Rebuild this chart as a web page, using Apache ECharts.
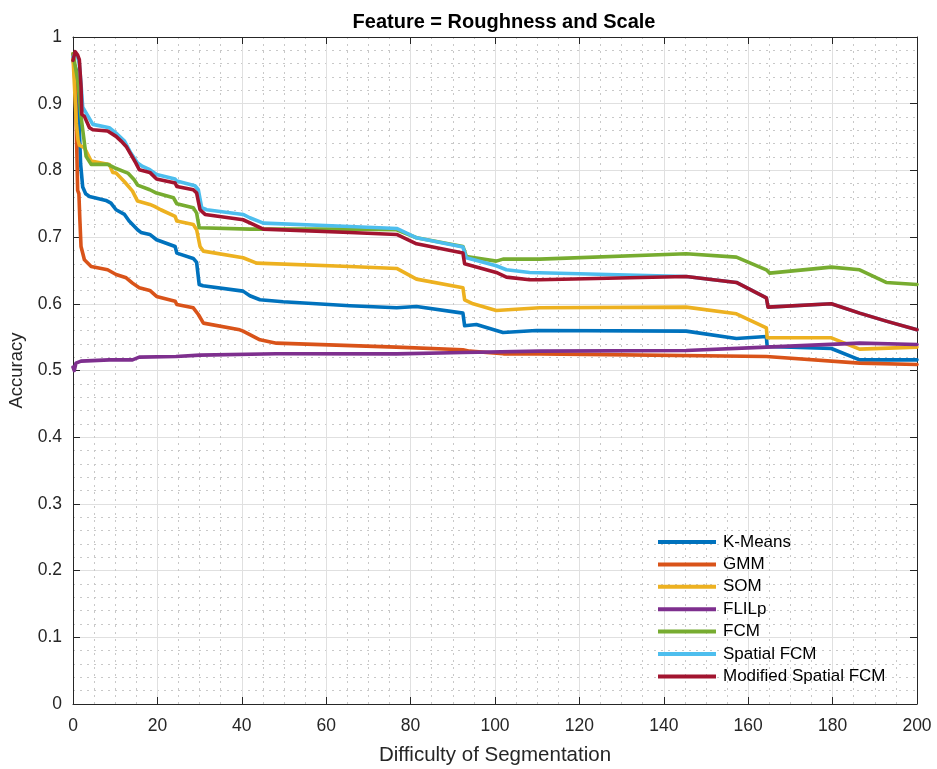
<!DOCTYPE html>
<html>
<head>
<meta charset="utf-8">
<script src="https://cdn.jsdelivr.net/npm/echarts@6/dist/echarts.min.js"></script>
<style>
  html, body { margin: 0; padding: 0; background: #fff; }
  #chart { width: 937px; height: 769px; }
</style>
</head>
<body>
<div id="chart"></div>
<script>
// Accuracy vs. difficulty of segmentation, one [difficulty, accuracy] list per method
const seriesNames = ['K-Means', 'GMM', 'SOM', 'FLILp', 'FCM', 'Spatial FCM', 'Modified Spatial FCM'];

const kmeans = [[0,0.965],[0.8,0.95],[1.3,0.90],[1.5,0.86],[1.8,0.81],[2.3,0.775],[3.0,0.765],[3.9,0.761],[7.8,0.755],[9,0.751],[10.2,0.741],[12.2,0.734],[13.3,0.724],[15.3,0.711],[16.1,0.707],[18.2,0.704],[19.8,0.696],[24.2,0.686],[24.6,0.676],[28.5,0.668],[29.3,0.662],[29.9,0.629],[30.8,0.627],[40.3,0.619],[41.9,0.612],[44.3,0.606],[49.8,0.603],[65.6,0.597],[76.7,0.594],[81.4,0.596],[92.4,0.586],[92.8,0.567],[95.6,0.569],[101.9,0.557],[109.8,0.560],[145.3,0.559],[157.2,0.548],[164.3,0.551],[164.5,0.536],[179.7,0.533],[186.4,0.516],[200,0.516]];

const gmm = [[0,0.975],[0.5,0.93],[0.8,0.86],[1.0,0.80],[1.1,0.77],[1.4,0.765],[1.6,0.73],[1.9,0.686],[2.7,0.666],[4.3,0.656],[8.2,0.651],[10.2,0.644],[12.6,0.639],[14.1,0.631],[15.7,0.624],[18.2,0.620],[19.8,0.611],[24.2,0.604],[24.6,0.599],[28.5,0.594],[29.7,0.584],[30.9,0.571],[39.5,0.561],[40.3,0.559],[44.3,0.546],[48.2,0.541],[76.6,0.535],[92.4,0.531],[94,0.529],[102,0.525],[110.6,0.525],[164.3,0.521],[186.4,0.511],[200,0.509]];

const som = [[0,0.97],[0.4,0.92],[0.8,0.87],[1.2,0.845],[1.5,0.838],[2.7,0.834],[4.3,0.814],[8.6,0.809],[9.4,0.797],[10.2,0.796],[12.2,0.783],[14.1,0.769],[15.3,0.754],[18.2,0.749],[19.3,0.746],[20.8,0.741],[24.2,0.731],[24.6,0.724],[28.5,0.719],[29.3,0.711],[30.1,0.686],[30.9,0.679],[40.3,0.669],[43.5,0.661],[65.6,0.656],[76.7,0.653],[81.4,0.637],[92.4,0.624],[92.8,0.606],[94.8,0.600],[100.3,0.590],[110.6,0.594],[145.3,0.595],[157.2,0.585],[164.3,0.564],[164.5,0.549],[179.7,0.549],[186.4,0.532],[200,0.535]];

const flilp = [[0,0.505],[0.3,0.500],[0.7,0.511],[1.9,0.514],[8.6,0.516],[14.1,0.516],[15.7,0.520],[24.4,0.521],[30.1,0.523],[48.2,0.525],[76.6,0.525],[92.4,0.527],[110.6,0.529],[145.3,0.530],[164.3,0.535],[186.4,0.541],[200,0.539]];

const fcm = [[0,0.975],[0.3,0.976],[1.1,0.936],[1.5,0.911],[1.9,0.881],[2.7,0.841],[3.1,0.821],[4.3,0.809],[8.2,0.809],[9.8,0.804],[13,0.796],[14.5,0.786],[15.3,0.778],[18.2,0.771],[19.8,0.766],[23.8,0.759],[24.6,0.750],[28.5,0.744],[29.3,0.736],[29.9,0.714],[41.9,0.712],[65.6,0.712],[76.7,0.711],[81.4,0.699],[92.4,0.686],[93.2,0.671],[100.3,0.664],[101.9,0.667],[110.6,0.667],[145.3,0.675],[157.2,0.670],[164.3,0.651],[165.1,0.646],[179.7,0.655],[186.4,0.651],[192.7,0.632],[200,0.629]];

const spatialFcm = [[0,0.97],[0.5,0.975],[1.1,0.97],[1.5,0.96],[1.9,0.93],[2.3,0.895],[2.7,0.893],[4.7,0.869],[8.6,0.864],[10.2,0.856],[12.2,0.844],[13.7,0.826],[15.3,0.811],[16.5,0.806],[18.2,0.801],[19.8,0.794],[24.2,0.787],[24.6,0.784],[28.9,0.777],[29.7,0.771],[30.5,0.744],[31.7,0.741],[40.3,0.734],[41.9,0.729],[45.1,0.721],[65.6,0.716],[76.7,0.713],[81.4,0.699],[92.4,0.685],[93.2,0.669],[100.3,0.657],[102.7,0.651],[108.2,0.647],[145.3,0.641],[157.2,0.632],[164.3,0.609],[164.7,0.595],[179.7,0.600],[186.4,0.586],[192.7,0.574],[200,0.561]];

const modSpatialFcm = [[0,0.965],[0.5,0.978],[1.1,0.973],[1.5,0.966],[1.7,0.946],[1.9,0.926],[2.1,0.884],[2.7,0.881],[3.9,0.864],[4.7,0.861],[8.2,0.859],[10.2,0.851],[11.4,0.844],[12.6,0.836],[13.7,0.824],[14.9,0.811],[15.7,0.801],[18.2,0.797],[19.8,0.787],[24.2,0.781],[24.6,0.776],[28.5,0.771],[29.3,0.766],[30.1,0.741],[31.3,0.734],[40.3,0.726],[42.7,0.719],[45.1,0.712],[65.6,0.707],[76.7,0.704],[81.4,0.690],[92.4,0.676],[92.8,0.660],[100.3,0.647],[102.7,0.640],[108.2,0.636],[110.6,0.636],[145.3,0.641],[157.2,0.632],[164.3,0.609],[164.7,0.595],[179.7,0.600],[186.4,0.586],[192.7,0.574],[200,0.561]];

const seriesData = [kmeans, gmm, som, flilp, fcm, spatialFcm, modSpatialFcm];
const colors = ['#0072BD', '#D95319', '#EDB120', '#7E2F8E', '#77AC30', '#4DBEEE', '#A2142F'];

const FONT = "'Liberation Sans', Arial, Helvetica, sans-serif";
const AXIS_COLOR = '#262626';

const chart = echarts.init(document.getElementById('chart'), null, { renderer: 'canvas' });

const gridLine = { show: true, lineStyle: { color: '#e0e0e0', width: 1 } };
const minorGrid = { show: true, lineStyle: { color: '#c8c8c8', width: 1, type: [2, 5] } };

// Box frame: a tick-only axis on the top and right sides
const frameAxis = {
  axisLine: { show: true, onZero: false, lineStyle: { color: AXIS_COLOR, width: 1 } },
  axisTick: { show: true, inside: true, length: 7, lineStyle: { color: AXIS_COLOR } },
  axisLabel: { show: false },
  splitLine: { show: false }
};

chart.setOption({
  backgroundColor: '#ffffff',
  animation: false,
  color: colors,
  title: {
    text: 'Feature = Roughness and Scale',
    left: 499, top: 7, textAlign: 'center',
    textStyle: { fontFamily: FONT, fontSize: 20, fontWeight: 'bold', color: '#000' }
  },
  grid: { left: 73, right: 20, top: 37, bottom: 65, containLabel: false, outerBoundsMode: 'none' },
  legend: {
    orient: 'vertical',
    left: 658, top: 533,
    padding: 0,
    itemWidth: 58, itemHeight: 4, itemGap: 4.4,
    icon: 'rect',
    data: seriesNames,
    textStyle: { fontFamily: FONT, fontSize: 17, color: '#000', lineHeight: 18, padding: [0, 0, 0, 2] },
    backgroundColor: 'transparent', borderWidth: 0
  },
  xAxis: [{
    type: 'value', min: 0, max: 200, interval: 20,
    name: 'Difficulty of Segmentation', nameLocation: 'middle', nameGap: 41,
    nameTextStyle: { fontFamily: FONT, fontSize: 20.5, color: AXIS_COLOR },
    axisLine: { show: true, onZero: false, lineStyle: { color: AXIS_COLOR, width: 1 } },
    axisTick: { show: true, inside: true, length: 7, lineStyle: { color: AXIS_COLOR } },
    axisLabel: { fontFamily: FONT, fontSize: 17.5, color: AXIS_COLOR, margin: 13 },
    splitLine: gridLine,
    minorTick: { show: false, splitNumber: 4 },
    minorSplitLine: minorGrid
  }, Object.assign({ type: 'value', min: 0, max: 200, interval: 20, position: 'top' }, frameAxis)],
  yAxis: [{
    type: 'value', min: 0, max: 1, interval: 0.1,
    name: 'Accuracy', nameLocation: 'middle', nameGap: 38,
    nameTextStyle: { fontFamily: FONT, fontSize: 18.5, color: AXIS_COLOR },
    axisLine: { show: true, onZero: false, lineStyle: { color: AXIS_COLOR, width: 1 } },
    axisTick: { show: true, inside: true, length: 7, lineStyle: { color: AXIS_COLOR } },
    axisLabel: { fontFamily: FONT, fontSize: 17.5, color: AXIS_COLOR, margin: 11 },
    splitLine: gridLine,
    minorTick: { show: false, splitNumber: 5 },
    minorSplitLine: minorGrid
  }, Object.assign({ type: 'value', min: 0, max: 1, interval: 0.1, position: 'right' }, frameAxis)],
  series: seriesNames.map((name, i) => ({
    name,
    type: 'line',
    data: seriesData[i],
    xAxisIndex: 0,
    yAxisIndex: 0,
    showSymbol: false,
    symbol: 'none',
    smooth: false,
    clip: true,
    lineStyle: { width: 3.6, color: colors[i], cap: 'round', join: 'round' },
    itemStyle: { color: colors[i] },
    emphasis: { disabled: true }
  }))
});
</script>
</body>
</html>
